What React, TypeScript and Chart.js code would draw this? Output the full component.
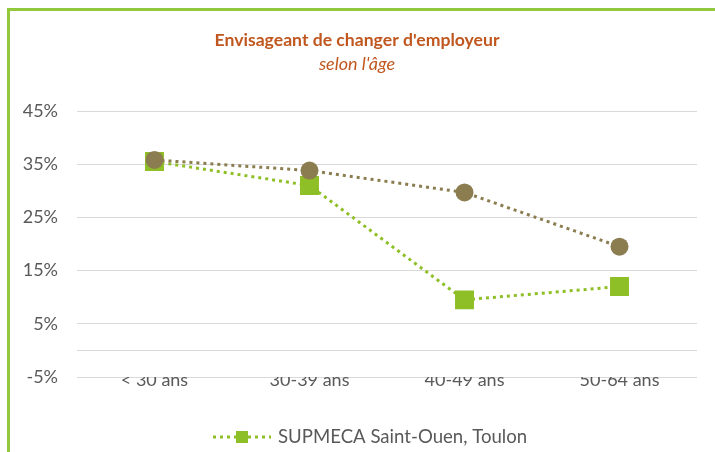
import React, { useEffect, useRef } from "react";
import { Chart, registerables } from "chart.js";

Chart.register(...registerables);

const categories = ["< 30 ans", "30-39 ans", "40-49 ans", "50-64 ans"];
const supmecaValues = [35.5, 31, 9.5, 12];
const ensembleValues = [35.8, 33.8, 29.7, 19.5];
const yTicks = [-5, 5, 15, 25, 35, 45];
const titleText = "Envisageant de changer d'employeur";
const subtitleText = "selon l'âge";
const legendText = "SUPMECA Saint-Ouen, Toulon";

const GREEN = "#8fbf26";
const BROWN = "#8b7d50";
const GREY = "#595959";
const TITLE = "#c0571f";
const FONT = "Lato";

export default function App() {
  const ref = useRef<HTMLCanvasElement | null>(null);

  useEffect(() => {
    document.body.style.margin = "0";
    document.body.style.overflow = "hidden";
    const canvas = ref.current;
    if (!canvas) return;

    const decor = {
      id: "decor",
      beforeDraw(chart: any) {
        const ctx = chart.ctx;
        ctx.save();
        ctx.fillStyle = "#ffffff";
        ctx.fillRect(0, 0, chart.width, chart.height);
        ctx.fillStyle = "#92c83e";
        ctx.fillRect(7, 8, 3, chart.height);
        ctx.fillRect(7, 8, chart.width, 3);
        ctx.restore();
      },
      afterDraw(chart: any) {
        const ctx = chart.ctx;
        ctx.save();
        ctx.textAlign = "center";
        ctx.textBaseline = "middle";
        ctx.fillStyle = TITLE;
        ctx.font = `bold 17.6px ${FONT}`;
        ctx.fillText(titleText, 357, 40);
        ctx.font = `italic 18px ${FONT}`;
        ctx.fillText(subtitleText, 357, 64);

        // legend
        const ly = 437;
        ctx.strokeStyle = GREEN;
        ctx.lineWidth = 3;
        ctx.setLineDash([3, 4]);
        ctx.beginPath();
        ctx.moveTo(213, ly);
        ctx.lineTo(271, ly);
        ctx.stroke();
        ctx.setLineDash([]);
        ctx.fillStyle = GREEN;
        ctx.fillRect(236, ly - 6, 12, 12);
        ctx.fillStyle = GREY;
        ctx.textAlign = "left";
        ctx.font = `18.6px ${FONT}`;
        ctx.fillText(legendText, 278, ly);
        ctx.restore();
      },
    };

    const chart = new Chart(canvas, {
      type: "line",
      data: {
        labels: categories,
        datasets: [
          {
            label: legendText,
            data: supmecaValues,
            borderColor: GREEN,
            backgroundColor: GREEN,
            borderWidth: 3,
            borderDash: [3, 4],
            pointStyle: "rect",
            pointRadius: 13.4,
            pointBorderWidth: 0,
            pointBackgroundColor: GREEN,
            order: 1,
          },
          {
            label: "Ensemble",
            data: ensembleValues,
            borderColor: BROWN,
            backgroundColor: BROWN,
            borderWidth: 3,
            borderDash: [3, 4],
            pointStyle: "circle",
            pointRadius: 9,
            pointBorderWidth: 0,
            pointBackgroundColor: BROWN,
            order: 0,
          },
        ],
      },
      options: {
        responsive: false,
        animation: false,
        layout: { padding: { left: 0, top: 111, right: 18, bottom: 0 } },
        plugins: {
          legend: { display: false },
          title: { display: false },
          tooltip: { enabled: false },
        },
        scales: {
          x: {
            offset: true,
            grid: { display: false, drawTicks: false },
            border: { display: false },
            ticks: {
              color: GREY,
              font: { family: FONT, size: 18 },
              padding: -8,
              maxRotation: 0,
            },
            afterFit(scale: any) {
              scale.height = 75;
            },
          },
          y: {
            min: yTicks[0],
            max: yTicks[yTicks.length - 1],
            ticks: {
              stepSize: 10,
              color: GREY,
              font: { family: FONT, size: 18 },
              padding: 19,
              callback: (v: any) => (v === 0 ? "" : `${v}%`),
            },
            grid: { color: "#d9d9d9", lineWidth: 1, drawTicks: false },
            border: { display: false },
            afterBuildTicks(scale: any) {
              scale.ticks = yTicks.map((v) => ({ value: v }));
              scale.ticks.push({ value: 0 });
            },
            afterFit(scale: any) {
              scale.width = 77;
            },
          },
        },
      },
      plugins: [decor],
    });

    return () => chart.destroy();
  }, []);

  return <canvas ref={ref} width={715} height={452} style={{ display: "block" }} />;
}
